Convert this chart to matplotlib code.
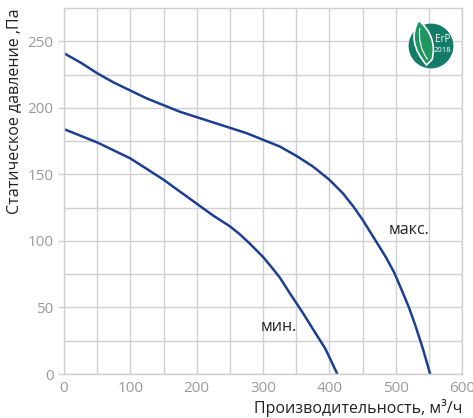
import matplotlib.pyplot as plt
from matplotlib.patches import Circle, PathPatch
from matplotlib.path import Path

# Кривые вентилятора (чтение с графика)
flow_max = [0, 25, 50, 75, 100, 125, 150, 175, 200, 225, 250, 275, 300, 325, 350, 375,
            400, 420, 436, 450, 470, 485, 498, 510, 520, 530, 541, 552]
pres_max = [241, 234, 226, 219, 213, 207, 202, 197, 193, 189, 185, 181, 176, 171, 164, 156,
            146, 136, 126, 116, 100, 88, 76, 62, 50, 36, 19, 0]

flow_min = [0, 25, 50, 75, 100, 125, 150, 175, 200, 225, 250, 265, 280, 300, 315, 326,
            340, 360, 380, 394, 412]
pres_min = [184, 179, 174, 168, 162, 154, 146, 137, 128, 119, 111, 105, 98, 88, 79, 72,
            61, 46, 30, 19, 0]

x_ticks = [0, 100, 200, 300, 400, 500, 600]
y_ticks = [0, 50, 100, 150, 200, 250]

line_color = '#1c3f94'
grid_color = '#d0d0d0'
tick_color = '#9a9a9a'

plt.rcParams['font.family'] = ['Open Sans', 'DejaVu Sans']

fig = plt.figure(figsize=(4.73, 4.18), dpi=100)
ax = fig.add_axes([64 / 473, 44 / 418, 398 / 473, 366 / 418])

ax.plot(flow_max, pres_max, color=line_color, linewidth=1.8, solid_capstyle='butt')
ax.plot(flow_min, pres_min, color=line_color, linewidth=1.8, solid_capstyle='butt')

ax.set_xlim(0, 600)
ax.set_ylim(0, 275)
ax.set_xticks(x_ticks)
ax.set_yticks(y_ticks)
ax.set_xticks(range(50, 600, 100), minor=True)
ax.set_yticks(range(25, 275, 50), minor=True)
ax.grid(True, which='both', color=grid_color, linewidth=1)
ax.set_axisbelow(True)

for side in ax.spines.values():
    side.set_color(grid_color)
    side.set_linewidth(1)

ax.tick_params(axis='both', which='major', colors=grid_color, labelcolor=tick_color,
               labelsize=11, length=4, width=1)
ax.tick_params(axis='x', which='major', length=0, pad=5)
ax.tick_params(axis='both', which='minor', length=0)

ax.set_xlabel('Производительность, м³/ч', fontsize=11.5, color='#222222', loc='right', labelpad=2)
ax.set_ylabel('Статическое давление ,Па', fontsize=11.5, color='#222222', loc='top', labelpad=4)

ax.text(490, 108, 'макс.', fontsize=11.5, color='#222222', va='center')
ax.text(297, 35, 'мин.', fontsize=11.5, color='#222222', va='center')

# логотип ErP 2018 (отдельные оси с равным масштабом)
lg = fig.add_axes([403 / 473, (418 - 74) / 418, 56 / 473, 56 / 418])
lg.set_xlim(-1.25, 1.25)
lg.set_ylim(-1.25, 1.25)
lg.set_aspect('equal')
lg.axis('off')
lg.add_patch(Circle((0, 0), 1.0, facecolor='#137c68', edgecolor='none'))
leaf = Path([(-0.55, 1.15), (-1.1, 0.2), (-0.2, -0.85), (0.05, -0.6), (0.3, 0.4),
             (-0.55, 1.15)],
            [Path.MOVETO, Path.CURVE3, Path.CURVE3, Path.LINETO, Path.CURVE3, Path.CURVE3])
lg.add_patch(PathPatch(leaf, facecolor='#1f9560', edgecolor='white', linewidth=1.2))
vein = Path([(-0.5, 0.8), (-0.6, 0.0), (-0.15, -0.6)], [Path.MOVETO, Path.CURVE3, Path.CURVE3])
lg.add_patch(PathPatch(vein, facecolor='none', edgecolor='white', linewidth=0.8))
lg.text(0.5, 0.05, 'ErP', fontsize=7, color='white', ha='center', va='bottom')
lg.text(0.5, -0.05, '2018', fontsize=5.5, color='white', ha='center', va='top')

fig.savefig('out.png', dpi=100, facecolor='w')
